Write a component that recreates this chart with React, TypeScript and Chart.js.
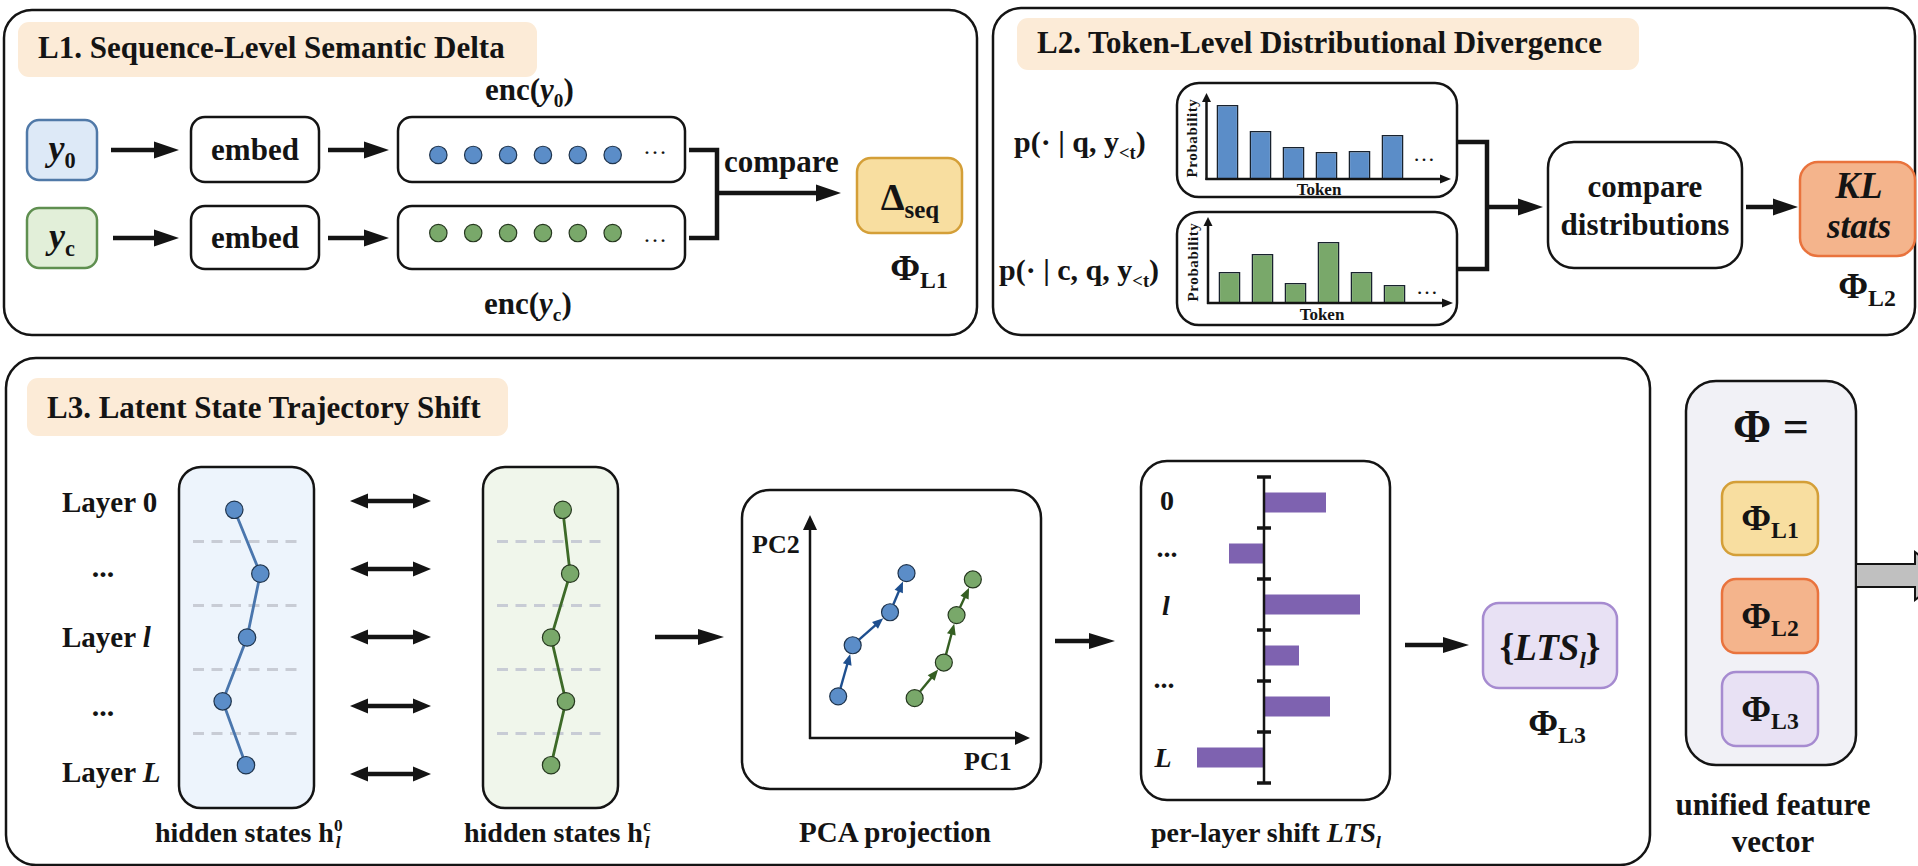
import React, { useEffect, useRef } from 'react';
import { Chart, registerables } from 'chart.js';

Chart.register(...registerables);

const SERIF = '"Liberation Serif", "Times New Roman", Times, serif';
const INK = '#141414';
const PILL = '#fcebd7';

// ---------------- data ----------------
// L1: embedding slots shown in each enc(...) box
const ENC_SLOTS = [0, 1, 2, 3, 4, 5];
const ENC_ROW_Y0 = 1;
const ENC_ROW_YC = 0;

// L2: token probability distributions
const TOKENS = ['t1', 't2', 't3', 't4', 't5', 't6'];
const P_BASE = [0.37, 0.24, 0.16, 0.135, 0.14, 0.22];
const P_CTX = [0.155, 0.245, 0.1, 0.305, 0.155, 0.09];

// L3: hidden-state trajectories across layers (0, ..., l, ..., L)
const LAYER_IDX = [0, 1, 2, 3, 4];
const LAYER_GRID = [0.5, 1.5, 2.5, 3.5];
const H0_STATE = [3.9, 6.35, 5.1, 2.8, 5.0];
const HC_STATE = [6.2, 6.9, 5.1, 6.5, 5.1];

// L3: PCA projection
const PCA_BASE_PC1 = [0.83, 1.56, 3.44, 4.27];
const PCA_BASE_PC2 = [1.57, 4.08, 5.7, 7.62];
const PCA_CTX_PC1 = [4.68, 6.15, 6.79, 7.61];
const PCA_CTX_PC2 = [1.48, 3.23, 5.56, 7.31];

// L3: per-layer shift LTS_l
const LTS_LAYERS = ['layer 0', 'layer 1', 'layer l', 'layer l+1', 'layer L-1', 'layer L'];
const LTS_VALUES = [1.55, -0.875, 2.4, 0.875, 1.65, -1.675];

// ---------------- chart plumbing ----------------
function MiniChart({ left, top, width, height, config }: any) {
  const ref = useRef<HTMLCanvasElement>(null);
  useEffect(() => {
    const c = new Chart(ref.current as HTMLCanvasElement, config);
    return () => c.destroy();
  }, []);
  return (
    <canvas
      ref={ref}
      width={width}
      height={height}
      style={{ position: 'absolute', left, top, width, height }}
    />
  );
}

const basePlugins = { legend: { display: false }, tooltip: { enabled: false } };

const trajArrows = {
  id: 'trajArrows',
  beforeDatasetsDraw(chart: any) {
    const ctx = chart.ctx;
    chart.data.datasets.forEach((ds: any, di: number) => {
      const meta = chart.getDatasetMeta(di);
      const color = ds.arrowColor;
      for (let i = 0; i < meta.data.length - 1; i++) {
        const a = meta.data[i];
        const b = meta.data[i + 1];
        const dx = b.x - a.x;
        const dy = b.y - a.y;
        const L = Math.hypot(dx, dy);
        const ux = dx / L;
        const uy = dy / L;
        const r = 8.5;
        const sx = a.x + ux * r;
        const sy = a.y + uy * r;
        const ex = b.x - ux * (r + 0.5);
        const ey = b.y - uy * (r + 0.5);
        const hl = 11;
        const hw = 4.5;
        ctx.save();
        ctx.strokeStyle = color;
        ctx.fillStyle = color;
        ctx.lineWidth = 2.4;
        ctx.beginPath();
        ctx.moveTo(sx, sy);
        ctx.lineTo(ex - ux * hl * 0.7, ey - uy * hl * 0.7);
        ctx.stroke();
        ctx.beginPath();
        ctx.moveTo(ex, ey);
        ctx.lineTo(ex - ux * hl - uy * hw, ey - uy * hl + ux * hw);
        ctx.lineTo(ex - ux * hl + uy * hw, ey - uy * hl - ux * hw);
        ctx.closePath();
        ctx.fill();
        ctx.restore();
      }
    });
  },
};

const ltsAxis = {
  id: 'ltsAxis',
  afterDatasetsDraw(chart: any) {
    const { ctx, scales } = chart;
    const x0 = scales.x.getPixelForValue(0);
    const ys = scales.y;
    const n = chart.data.labels.length;
    const band = ys.getPixelForValue(1) - ys.getPixelForValue(0);
    const first = ys.getPixelForValue(0) - band / 2;
    ctx.save();
    ctx.strokeStyle = INK;
    ctx.lineWidth = 2.5;
    ctx.beginPath();
    ctx.moveTo(x0, first);
    ctx.lineTo(x0, first + n * band);
    ctx.stroke();
    ctx.lineWidth = 3.5;
    for (let i = 0; i <= n; i++) {
      const y = first + i * band;
      ctx.beginPath();
      ctx.moveTo(x0 - 7, y);
      ctx.lineTo(x0 + 7, y);
      ctx.stroke();
    }
    ctx.restore();
  },
};

const dotsConfig: any = {
  type: 'scatter',
  data: {
    datasets: [
      {
        data: ENC_SLOTS.map((s) => ({ x: s, y: ENC_ROW_Y0 })),
        pointRadius: 8.7,
        pointBackgroundColor: '#5b8dc8',
        pointBorderColor: '#1f344d',
        pointBorderWidth: 1.2,
      },
      {
        data: ENC_SLOTS.map((s) => ({ x: s, y: ENC_ROW_YC })),
        pointRadius: 8.7,
        pointBackgroundColor: '#79a86a',
        pointBorderColor: '#26381f',
        pointBorderWidth: 1.2,
      },
    ],
  },
  options: {
    responsive: false,
    animation: false,
    layout: { padding: 0 },
    plugins: basePlugins,
    scales: {
      x: { type: 'linear', min: -0.5, max: 5.5, display: false },
      y: { type: 'linear', min: -0.5, max: 1.5, display: false },
    },
  },
};

function histConfig(values: number[], fill: string): any {
  return {
    type: 'bar',
    data: {
      labels: TOKENS,
      datasets: [
        {
          data: values,
          backgroundColor: fill,
          borderColor: '#18222e',
          borderWidth: 1.6,
          barPercentage: 0.667,
          categoryPercentage: 1,
        },
      ],
    },
    options: {
      responsive: false,
      animation: false,
      layout: { padding: 0 },
      plugins: basePlugins,
      scales: {
        x: { type: 'category', display: false, offset: true },
        y: { type: 'linear', min: 0, max: 0.5, display: false },
      },
    },
  };
}

function trajConfig(xs: number[], line: string, fill: string, edge: string): any {
  return {
    type: 'scatter',
    data: {
      datasets: [
        {
          data: xs.map((x, i) => ({ x, y: LAYER_IDX[i] })),
          showLine: true,
          borderColor: line,
          borderWidth: 2.8,
          pointRadius: 8.7,
          pointBackgroundColor: fill,
          pointBorderColor: edge,
          pointBorderWidth: 1.2,
        },
      ],
    },
    options: {
      responsive: false,
      animation: false,
      layout: { padding: 0 },
      plugins: basePlugins,
      scales: {
        x: { type: 'linear', min: 0, max: 10, display: false },
        y: {
          type: 'linear',
          min: -0.5,
          max: 4.5,
          reverse: true,
          display: true,
          afterBuildTicks: (scale: any) => {
            scale.ticks = LAYER_GRID.map((v) => ({ value: v }));
          },
          ticks: { display: false },
          border: { display: false, dash: [11, 7.5] },
          grid: {
            color: '#c8ccd5',
            lineWidth: 3,
            drawTicks: false,
          },
        },
      },
    },
  };
}

const pcaConfig: any = {
  type: 'scatter',
  data: {
    datasets: [
      {
        data: PCA_BASE_PC1.map((x, i) => ({ x, y: PCA_BASE_PC2[i] })),
        arrowColor: '#1e4f8f',
        pointRadius: 8.5,
        pointBackgroundColor: '#5b8dc8',
        pointBorderColor: '#1f344d',
        pointBorderWidth: 1.2,
      },
      {
        data: PCA_CTX_PC1.map((x, i) => ({ x, y: PCA_CTX_PC2[i] })),
        arrowColor: '#355f22',
        pointRadius: 8.5,
        pointBackgroundColor: '#79a86a',
        pointBorderColor: '#26381f',
        pointBorderWidth: 1.2,
      },
    ],
  },
  options: {
    responsive: false,
    animation: false,
    layout: { padding: 0 },
    plugins: basePlugins,
    scales: {
      x: { type: 'linear', min: 0, max: 10, display: false },
      y: { type: 'linear', min: 0, max: 10, display: false },
    },
  },
  plugins: [trajArrows],
};

const ltsConfig: any = {
  type: 'bar',
  data: {
    labels: LTS_LAYERS,
    datasets: [
      {
        data: LTS_VALUES,
        backgroundColor: '#7e62b0',
        borderWidth: 0,
        barPercentage: 0.392,
        categoryPercentage: 1,
      },
    ],
  },
  options: {
    indexAxis: 'y',
    responsive: false,
    animation: false,
    layout: { padding: { top: 4, bottom: 4, left: 0, right: 0 } },
    plugins: basePlugins,
    scales: {
      x: { type: 'linear', min: -2.5, max: 2.9, display: false },
      y: { type: 'category', display: false, offset: true },
    },
  },
  plugins: [ltsAxis],
};

// ---------------- svg helpers ----------------
type Part = { t: string; sub?: boolean; sup?: boolean; it?: boolean; size?: number; dx?: number };

function Txt({
  x,
  y,
  size,
  parts,
  anchor = 'start',
  weight = 'bold',
}: {
  x: number;
  y: number;
  size: number;
  parts: Part[];
  anchor?: string;
  weight?: string;
}) {
  let cur = 0;
  return (
    <text
      x={x}
      y={y}
      fontSize={size}
      textAnchor={anchor as any}
      fontWeight={weight}
      fill={INK}
      fontFamily={SERIF}
    >
      {parts.map((p, i) => {
        const s = p.size ?? (p.sub || p.sup ? size * 0.62 : size);
        const off = p.sub ? size * 0.22 : p.sup ? -size * 0.38 : 0;
        const dy = off - cur;
        cur = off;
        return (
          <tspan key={i} dy={dy} dx={p.dx ?? 0} fontSize={s} fontStyle={p.it ? 'italic' : 'normal'}>
            {p.t}
          </tspan>
        );
      })}
    </text>
  );
}

function Box({ x, y, w, h, r, fill = '#fff', stroke = INK, sw = 2.5 }: any) {
  return <rect x={x} y={y} width={w} height={h} rx={r} ry={r} fill={fill} stroke={stroke} strokeWidth={sw} />;
}

function Arrow({ x1, y1, x2, y2, hl = 25, hw = 8.5, sw = 4.5, color = INK, both = false }: any) {
  const dx = x2 - x1;
  const dy = y2 - y1;
  const L = Math.hypot(dx, dy);
  const ux = dx / L;
  const uy = dy / L;
  const head = (tx: number, ty: number, vx: number, vy: number) =>
    `${tx},${ty} ${tx - vx * hl - vy * hw},${ty - vy * hl + vx * hw} ${tx - vx * hl + vy * hw},${ty - vy * hl - vx * hw}`;
  const sx = both ? x1 + ux * (hl - 1) : x1;
  const sy = both ? y1 + uy * (hl - 1) : y1;
  const ex = x2 - ux * (hl - 1);
  const ey = y2 - uy * (hl - 1);
  return (
    <g>
      <line x1={sx} y1={sy} x2={ex} y2={ey} stroke={color} strokeWidth={sw} />
      <polygon points={head(x2, y2, ux, uy)} fill={color} />
      {both && <polygon points={head(x1, y1, -ux, -uy)} fill={color} />}
    </g>
  );
}

const PhiTxt = ({ x, y, sub, size = 36 }: any) => (
  <Txt x={x} y={y} size={size} anchor="middle" parts={[{ t: 'Φ' }, { t: sub, sub: true, size: size * 0.66 }]} />
);

const ARROW_ROWS = [501, 569, 637, 706, 774];

export default function App() {
  return (
    <div
      style={{
        position: 'absolute',
        left: 0,
        top: 0,
        width: 1918,
        height: 866,
        overflow: 'hidden',
        background: '#fff',
      }}
    >
      <svg width={1918} height={866} style={{ position: 'absolute', left: 0, top: 0 }}>
        {/* ---------- L1 ---------- */}
        <Box x={4} y={10} w={973} h={325} r={28} />
        <rect x={18} y={22} width={519} height={55} rx={11} fill={PILL} />
        <Txt x={38} y={58} size={31} parts={[{ t: 'L1. Sequence-Level Semantic Delta' }]} />
        <Txt x={485} y={100} size={31} parts={[{ t: 'enc(' }, { t: 'y', it: true }, { t: '0', sub: true }, { t: ')' }]} />

        <Box x={27} y={120} w={70} h={60} r={12} fill="#dde9f7" stroke="#5079a8" />
        <Txt x={62} y={160} size={36} anchor="middle" parts={[{ t: 'y', it: true }, { t: '0', sub: true }]} />
        <Arrow x1={111} y1={150} x2={179} y2={150} />
        <Box x={191} y={117} w={128} h={65} r={14} />
        <Txt x={255} y={160} size={31} anchor="middle" parts={[{ t: 'embed' }]} />
        <Arrow x1={328} y1={150} x2={389} y2={150} />
        <Box x={398} y={117} w={287} h={65} r={14} />
        <Txt x={655} y={154} size={24} anchor="middle" weight="normal" parts={[{ t: '…' }]} />

        <Box x={27} y={208} w={70} h={60} r={12} fill="#e2efd9" stroke="#5f8f50" />
        <Txt x={62} y={248} size={36} anchor="middle" parts={[{ t: 'y', it: true }, { t: 'c', sub: true }]} />
        <Arrow x1={113} y1={238} x2={179} y2={238} />
        <Box x={191} y={206} w={128} h={63} r={14} />
        <Txt x={255} y={248} size={31} anchor="middle" parts={[{ t: 'embed' }]} />
        <Arrow x1={328} y1={238} x2={389} y2={238} />
        <Box x={398} y={206} w={287} h={63} r={14} />
        <Txt x={655} y={242} size={24} anchor="middle" weight="normal" parts={[{ t: '…' }]} />
        <Txt x={484} y={314} size={31} parts={[{ t: 'enc(' }, { t: 'y', it: true }, { t: 'c', sub: true }, { t: ')' }]} />

        <path d="M689 150 H717 V238 H689" fill="none" stroke={INK} strokeWidth={4.5} />
        <Arrow x1={717} y1={193} x2={841} y2={193} />
        <Txt x={724} y={172} size={31} parts={[{ t: 'compare' }]} />
        <Box x={857} y={158} w={105} h={75} r={14} fill="#f8dea0" stroke="#d49f38" />
        <Txt x={910} y={210} size={38} anchor="middle" parts={[{ t: 'Δ' }, { t: 'seq', sub: true, size: 25 }]} />
        <PhiTxt x={919} y={280} sub="L1" />

        {/* ---------- L2 ---------- */}
        <Box x={993} y={8} w={922} h={327} r={28} />
        <rect x={1017} y={18} width={622} height={52} rx={11} fill={PILL} />
        <Txt x={1037} y={53} size={31} parts={[{ t: 'L2. Token-Level Distributional Divergence' }]} />
        <Txt x={1014} y={152} size={30} parts={[{ t: 'p(· | q, y' }, { t: '<t', sub: true }, { t: ')' }]} />
        <Txt x={999} y={280} size={30} parts={[{ t: 'p(· | c, q, y' }, { t: '<t', sub: true }, { t: ')' }]} />
        <Box x={1177} y={83} w={280} h={114} r={22} />
        <Box x={1177} y={212} w={280} h={113} r={22} />
        <text
          x={1197}
          y={138}
          transform="rotate(-90 1197 138)"
          textAnchor="middle"
          fontSize={15}
          fontWeight="bold"
          fontFamily={SERIF}
          fill={INK}
          letterSpacing={0.6}
        >
          Probability
        </text>
        <text
          x={1198}
          y={262}
          transform="rotate(-90 1198 262)"
          textAnchor="middle"
          fontSize={15}
          fontWeight="bold"
          fontFamily={SERIF}
          fill={INK}
          letterSpacing={0.6}
        >
          Probability
        </text>
        <Txt x={1319} y={195} size={17} anchor="middle" parts={[{ t: 'Token' }]} />
        <Txt x={1322} y={320} size={17} anchor="middle" parts={[{ t: 'Token' }]} />
        <Txt x={1424} y={161} size={22} anchor="middle" weight="normal" parts={[{ t: '…' }]} />
        <Txt x={1427} y={294} size={22} anchor="middle" weight="normal" parts={[{ t: '…' }]} />

        <path d="M1457 142 H1487 V269 H1457" fill="none" stroke={INK} strokeWidth={4.5} />
        <Arrow x1={1487} y1={207} x2={1543} y2={207} />
        <Box x={1548} y={142} w={194} h={126} r={26} />
        <Txt x={1645} y={197} size={31} anchor="middle" parts={[{ t: 'compare' }]} />
        <Txt x={1645} y={235} size={31} anchor="middle" parts={[{ t: 'distributions' }]} />
        <Arrow x1={1746} y1={207} x2={1798} y2={207} />
        <Box x={1800} y={162} w={115} h={94} r={18} fill="#f4b48c" stroke="#e9733d" />
        <Txt x={1859} y={198} size={37} anchor="middle" parts={[{ t: 'KL', it: true }]} />
        <Txt x={1859} y={238} size={35} anchor="middle" parts={[{ t: 'stats', it: true }]} />
        <PhiTxt x={1867} y={298} sub="L2" />

        {/* ---------- L3 ---------- */}
        <Box x={6} y={358} w={1644} h={507} r={30} />
        <rect x={27} y={378} width={481} height={58} rx={11} fill={PILL} />
        <Txt x={47} y={418} size={31} parts={[{ t: 'L3. Latent State Trajectory Shift' }]} />

        <Txt x={62} y={512} size={29} parts={[{ t: 'Layer 0' }]} />
        <Txt x={103} y={577} size={30} anchor="middle" parts={[{ t: '...' }]} />
        <Txt x={62} y={647} size={29} parts={[{ t: 'Layer ' }, { t: 'l', it: true }]} />
        <Txt x={103} y={716} size={30} anchor="middle" parts={[{ t: '...' }]} />
        <Txt x={62} y={782} size={29} parts={[{ t: 'Layer ' }, { t: 'L', it: true }]} />

        <Box x={179} y={467} w={135} h={341} r={22} fill="#edf4fc" />
        <Box x={483} y={467} w={135} h={341} r={22} fill="#f0f6eb" />
        {ARROW_ROWS.map((y) => (
          <Arrow key={y} x1={350} y1={y} x2={431} y2={y} hl={18} hw={7.5} sw={4.5} both />
        ))}
        <Txt
          x={155}
          y={842}
          size={28}
          parts={[{ t: 'hidden states h' }, { t: '0', sup: true }, { t: 'l', sub: true, it: true, dx: -7 }]}
        />
        <Txt
          x={464}
          y={842}
          size={28}
          parts={[{ t: 'hidden states h' }, { t: 'c', sup: true }, { t: 'l', sub: true, it: true, dx: -6 }]}
        />
        <Arrow x1={655} y1={637} x2={724} y2={637} hl={26} hw={8} />

        <Box x={742} y={490} w={299} h={299} r={28} />
        <Arrow x1={810} y1={739} x2={810} y2={515} hl={15} hw={7} sw={2.5} />
        <Arrow x1={809} y1={738} x2={1030} y2={738} hl={15} hw={7} sw={2.5} />
        <Txt x={752} y={553} size={26} parts={[{ t: 'PC2' }]} />
        <Txt x={964} y={770} size={26} parts={[{ t: 'PC1' }]} />
        <Txt x={799} y={842} size={29} parts={[{ t: 'PCA projection' }]} />
        <Arrow x1={1055} y1={641} x2={1115} y2={641} hl={26} hw={8} />

        <Box x={1141} y={461} w={249} h={339} r={26} />
        <Txt x={1167} y={510} size={28} anchor="middle" parts={[{ t: '0' }]} />
        <Txt x={1167} y={557} size={28} anchor="middle" parts={[{ t: '...' }]} />
        <Txt x={1166} y={615} size={28} anchor="middle" parts={[{ t: 'l', it: true }]} />
        <Txt x={1164} y={688} size={28} anchor="middle" parts={[{ t: '...' }]} />
        <Txt x={1163} y={767} size={28} anchor="middle" parts={[{ t: 'L', it: true }]} />
        <Txt
          x={1151}
          y={842}
          size={28}
          parts={[{ t: 'per-layer shift ' }, { t: 'LTS', it: true }, { t: 'l', sub: true, it: true }]}
        />
        <Arrow x1={1405} y1={645} x2={1469} y2={645} hl={26} hw={8} />
        <Box x={1483} y={603} w={134} h={85} r={16} fill="#e8e1f4" stroke="#a68bd0" />
        <Txt
          x={1550}
          y={660}
          size={37}
          anchor="middle"
          parts={[{ t: '{' }, { t: 'LTS', it: true }, { t: 'l', sub: true, it: true }, { t: '}' }]}
        />
        <PhiTxt x={1557} y={735} sub="L3" />

        {/* ---------- unified vector ---------- */}
        <Box x={1686} y={381} w={170} h={384} r={30} fill="#f1f1f6" />
        <Txt x={1771} y={442} size={46} anchor="middle" parts={[{ t: 'Φ =' }]} />
        <Box x={1722} y={482} w={96} h={73} r={14} fill="#f8dea0" stroke="#d49f38" />
        <PhiTxt x={1770} y={530} sub="L1" />
        <Box x={1722} y={579} w={96} h={74} r={14} fill="#f4b48c" stroke="#e9733d" />
        <PhiTxt x={1770} y={628} sub="L2" />
        <Box x={1722} y={672} w={96} h={74} r={14} fill="#e8e1f4" stroke="#a68bd0" />
        <PhiTxt x={1770} y={721} sub="L3" />
        <polygon
          points="1856,564 1915,564 1915,552 1945,576 1915,600 1915,587 1856,587"
          fill="#c0c0c0"
          stroke={INK}
          strokeWidth={2}
        />
        <Txt x={1773} y={815} size={31} anchor="middle" parts={[{ t: 'unified feature' }]} />
        <Txt x={1773} y={852} size={31} anchor="middle" parts={[{ t: 'vector' }]} />
      </svg>

      <MiniChart left={411} top={106} width={229} height={176} config={dotsConfig} />
      <MiniChart left={1211} top={79} width={198} height={100} config={histConfig(P_BASE, '#5b8dc8')} />
      <MiniChart left={1213} top={203} width={198} height={100} config={histConfig(P_CTX, '#79a86a')} />
      <MiniChart left={183} top={468} width={126} height={339} config={trajConfig(H0_STATE, '#4a76ad', '#5b8dc8', '#1f344d')} />
      <MiniChart left={487} top={468} width={126} height={339} config={trajConfig(HC_STATE, '#3d6a28', '#79a86a', '#26381f')} />
      <MiniChart left={812} top={515} width={218} height={223} config={pcaConfig} />
      <MiniChart left={1164} top={473} width={216} height={314} config={ltsConfig} />

      <svg width={1918} height={866} style={{ position: 'absolute', left: 0, top: 0, pointerEvents: 'none' }}>
        <Arrow x1={1206.5} y1={180} x2={1206.5} y2={93} hl={9} hw={4.5} sw={2.5} />
        <Arrow x1={1205.5} y1={179} x2={1451} y2={179} hl={11} hw={4.5} sw={2.5} />
        <Arrow x1={1208} y1={304} x2={1208} y2={217} hl={9} hw={4.5} sw={2.5} />
        <Arrow x1={1207} y1={303} x2={1453} y2={303} hl={11} hw={4.5} sw={2.5} />
      </svg>
    </div>
  );
}
